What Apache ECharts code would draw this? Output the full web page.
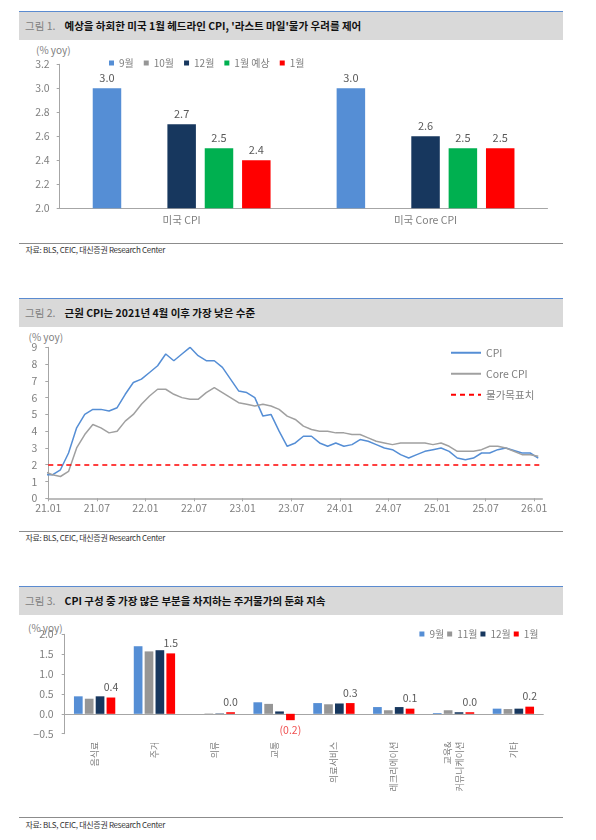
<!DOCTYPE html>
<html><head><meta charset="utf-8">
<script src="https://cdn.jsdelivr.net/npm/echarts@6/dist/echarts.min.js"></script>
<style>
html,body{margin:0;padding:0;background:#fff;width:596px;height:840px;overflow:hidden;font-family:'Noto Sans CJK KR','Noto Sans',sans-serif;}
.band{position:absolute;left:19px;width:544px;height:28px;background:#d9d9d9;border-top:1px solid #5b8bd0;}
.band .no{position:absolute;left:6px;top:0;line-height:28px;font-size:10.5px;color:#808080;white-space:nowrap;}
.band .tt{position:absolute;left:45.5px;top:0;line-height:28px;font-size:10.5px;font-weight:bold;color:#111;white-space:nowrap;}
.srcline{position:absolute;left:19px;width:544px;height:0;border-top:1px solid #8c8c8c;}
.src{position:absolute;left:25.5px;font-size:8px;letter-spacing:-0.3px;color:#333;white-space:nowrap;line-height:10px;}
.unit{position:absolute;font-size:10px;color:#808080;white-space:nowrap;line-height:12px;}
.chart{position:absolute;left:0;top:0;width:596px;height:840px;}
</style></head>
<body>
<div class="band" style="top:11px"><span class="no">그림 1.</span><span class="tt">예상을 하회한 미국 1월 헤드라인 CPI, '라스트 마일'물가 우려를 제어</span></div>
<div class="unit" style="left:36px;top:44px">(% yoy)</div>
<div class="srcline" style="top:243px"></div>
<div class="src" style="top:244.5px">자료: BLS, CEIC, 대신증권 Research Center</div>

<div class="band" style="top:298px"><span class="no">그림 2.</span><span class="tt">근원 CPI는 2021년 4월 이후 가장 낮은 수준</span></div>
<div class="unit" style="left:28.5px;top:330.5px">(% yoy)</div>
<div class="srcline" style="top:531px"></div>
<div class="src" style="top:533px">자료: BLS, CEIC, 대신증권 Research Center</div>

<div class="band" style="top:586px"><span class="no">그림 3.</span><span class="tt">CPI 구성 중 가장 많은 부분을 차지하는 주거물가의 둔화 지속</span></div>
<div class="unit" style="left:28px;top:622px">(% yoy)</div>
<div class="srcline" style="top:817px"></div>
<div class="src" style="top:820px">자료: BLS, CEIC, 대신증권 Research Center</div>

<div id="c1" class="chart"></div>
<div id="c2" class="chart"></div>
<div id="c3" class="chart"></div>
<script>
// ---------- Chart 1 data ----------
const C1_CATS = ['미국 CPI', '미국 Core CPI'];
const C1_NAMES = ['9월', '10월', '12월', '1월 예상', '1월'];
const C1_SEP = [3.0, 3.0];
const C1_OCT = [null, null];
const C1_DEC = [2.7, 2.6];
const C1_JAN_FCST = [2.5, 2.5];
const C1_JAN = [2.4, 2.5];

// ---------- Chart 2 data ----------
const C2_MONTHS = ['2020.12',
 '2021.01','2021.02','2021.03','2021.04','2021.05','2021.06','2021.07','2021.08','2021.09','2021.10','2021.11','2021.12',
 '2022.01','2022.02','2022.03','2022.04','2022.05','2022.06','2022.07','2022.08','2022.09','2022.10','2022.11','2022.12',
 '2023.01','2023.02','2023.03','2023.04','2023.05','2023.06','2023.07','2023.08','2023.09','2023.10','2023.11','2023.12',
 '2024.01','2024.02','2024.03','2024.04','2024.05','2024.06','2024.07','2024.08','2024.09','2024.10','2024.11','2024.12',
 '2025.01','2025.02','2025.03','2025.04','2025.05','2025.06','2025.07','2025.08','2025.09','2025.10','2025.11','2025.12',
 '2026.01'];
const C2_CPI = [1.4,
 1.4,1.7,2.7,4.2,5.0,5.3,5.3,5.2,5.4,6.2,6.9,7.1,
 7.5,7.9,8.6,8.2,8.6,9.0,8.5,8.2,8.2,7.8,7.1,6.4,
 6.3,6.0,4.9,5.0,4.0,3.1,3.3,3.7,3.7,3.3,3.1,3.3,
 3.1,3.2,3.5,3.4,3.2,3.0,2.9,2.6,2.4,2.6,2.8,2.9,
 3.0,2.8,2.4,2.3,2.4,2.7,2.7,2.9,3.0,null,2.7,2.7,
 2.4];
const C2_CORE = [1.6,
 1.4,1.3,1.6,3.0,3.8,4.4,4.2,3.9,4.0,4.6,5.0,5.6,
 6.1,6.5,6.5,6.2,6.0,5.9,5.9,6.3,6.6,6.3,6.0,5.7,
 5.6,5.5,5.6,5.5,5.3,4.9,4.7,4.3,4.1,4.0,4.0,3.9,
 3.9,3.8,3.8,3.6,3.4,3.3,3.2,3.3,3.3,3.3,3.3,3.2,
 3.3,3.1,2.8,2.8,2.8,2.9,3.1,3.1,3.0,null,2.6,2.6,
 2.5];
const C2_TARGET = 2;
const C2_X_TICKS = ['21.01','21.07','22.01','22.07','23.01','23.07','24.01','24.07','25.01','25.07','26.01'];

// ---------- Chart 3 data ----------
const C3_CATS = ['음식료','주거','의류','교통','의료서비스','레크리에이션','교육&\n커뮤니케이션','기타'];
const C3_NAMES = ['9월','11월','12월','1월'];
const C3_SEP = [0.44, 1.70, 0.00, 0.29, 0.27, 0.17, 0.02, 0.13];
const C3_NOV = [0.38, 1.57, 0.01, 0.25, 0.24, 0.09, 0.09, 0.12];
const C3_DEC = [0.44, 1.60, 0.01, 0.06, 0.26, 0.17, 0.04, 0.13];
const C3_JAN = [0.41, 1.52, 0.04, -0.16, 0.27, 0.13, 0.04, 0.18];

// ---------- styles ----------
const FF = "'Noto Sans CJK KR','Noto Sans',sans-serif";
const AX = '#a6a6a6';
const LBL = '#7f7f7f';
const COL = {sep:'#558ed5', gray:'#969696', navy:'#17375e', green:'#00b050', red:'#ff0000'};

// ---------- Chart 1 ----------
const c1 = echarts.init(document.getElementById('c1'));
const c1Data = [C1_SEP, C1_OCT, C1_DEC, C1_JAN_FCST, C1_JAN];
const c1Colors = [COL.sep, COL.gray, COL.navy, COL.green, COL.red];
c1.setOption({
  animation:false,
  textStyle:{fontFamily:FF},
  legend:{left:104, top:53, icon:'rect', itemWidth:5, itemHeight:5, itemGap:10,
    textStyle:{fontSize:10, color:LBL, fontFamily:FF}, data:C1_NAMES},
  grid:{left:59.7, top:64.3, width:487.8, height:144},
  xAxis:{type:'category', data:C1_CATS,
    axisLine:{lineStyle:{color:AX}}, axisTick:{inside:true, length:3, lineStyle:{color:AX}},
    axisLabel:{margin:6, fontSize:10.5, color:LBL}},
  yAxis:{type:'value', min:2.0, max:3.2, interval:0.2, splitLine:{show:false},
    axisLine:{show:true, lineStyle:{color:AX}}, axisTick:{show:true, length:3, lineStyle:{color:AX}},
    axisLabel:{margin:10, fontSize:10.5, color:LBL, formatter:v=>v.toFixed(1)}},
  series:C1_NAMES.map((name,i)=>({
    name, type:'bar', data:c1Data[i], barWidth:28.5, barGap:'31%',
    itemStyle:{color:c1Colors[i]},
    label:{show:true, position:'top', distance:5, fontSize:11, color:'#595959',
      formatter:p=>p.value==null?'':Number(p.value).toFixed(1)}
  }))
});

// ---------- Chart 2 ----------
const c2 = echarts.init(document.getElementById('c2'));
const monthPos = s => { const [y,m] = s.split('.').map(Number); return (y-2021)*12 + (m-1) + 0.5; };
const toPts = vals => C2_MONTHS.map((m,i)=>[monthPos(m), vals[i]]).filter(p=>p[1]!=null);
c2.setOption({
  animation:false,
  textStyle:{fontFamily:FF},
  legend:{orient:'vertical', left:445, top:342.5, itemWidth:30, itemHeight:12, itemGap:10.5,
    itemStyle:{opacity:0},
    textStyle:{fontSize:10.5, color:LBL, fontFamily:FF}, data:['CPI','Core CPI','물가목표치']},
  grid:{left:48.3, top:347.3, width:494, height:151},
  xAxis:{type:'value', min:0, max:61, interval:6, splitLine:{show:false},
    axisLine:{lineStyle:{color:AX, width:1.5}}, axisTick:{length:3, lineStyle:{color:AX}},
    axisLabel:{margin:4, fontSize:10.5, color:LBL, showMaxLabel:false,
      formatter:v=>C2_X_TICKS[v/6] || ''}},
  yAxis:{type:'value', min:0, max:9, interval:1, splitLine:{show:false},
    axisLine:{show:true, lineStyle:{color:AX}}, axisTick:{show:true, length:3, lineStyle:{color:AX}},
    axisLabel:{margin:11, fontSize:10.5, color:LBL}},
  series:[
    {name:'CPI', type:'line', data:toPts(C2_CPI), symbol:'none', showSymbol:false,
      lineStyle:{color:COL.sep, width:1.5}, itemStyle:{color:COL.sep}},
    {name:'Core CPI', type:'line', data:toPts(C2_CORE), symbol:'none', showSymbol:false,
      lineStyle:{color:'#a0a0a0', width:1.5}, itemStyle:{color:'#a0a0a0'}},
    {name:'물가목표치', type:'line', data:[], symbol:'none',
      lineStyle:{color:COL.red, width:1.5, type:[5,4]}, itemStyle:{color:COL.red},
      markLine:{silent:true, symbol:['none','none'], label:{show:false},
        lineStyle:{color:COL.red, width:1.5, type:[5,4]}, data:[{yAxis:C2_TARGET}]}}
  ]
});

// ---------- Chart 3 ----------
const c3 = echarts.init(document.getElementById('c3'));
const c3Data = [C3_SEP, C3_NOV, C3_DEC, C3_JAN];
const c3Colors = [COL.sep, COL.gray, COL.navy, COL.red];
const fmt3 = v => v < 0 ? '(' + Math.abs(v).toFixed(1) + ')' : v.toFixed(1);
c3.setOption({
  animation:false,
  textStyle:{fontFamily:FF},
  legend:{right:52.5, top:624, icon:'rect', itemWidth:5, itemHeight:5, itemGap:3,
    textStyle:{fontSize:10, color:LBL, fontFamily:FF}, data:C3_NAMES},
  grid:{left:64.7, top:634.3, width:478.6, height:99.4},
  xAxis:[
    {type:'category', data:C3_CATS, axisLine:{onZero:true, lineStyle:{color:AX}},
      axisTick:{length:3, lineStyle:{color:AX}}, axisLabel:{show:false}},
    {type:'category', data:C3_CATS, position:'bottom', axisLine:{show:false, onZero:false},
      axisTick:{show:false},
      axisLabel:{interval:0, rotate:90, margin:8, fontSize:9, lineHeight:12.6, color:LBL}}
  ],
  yAxis:{type:'value', min:-0.5, max:2.0, interval:0.5, splitLine:{show:false},
    axisLine:{show:true, lineStyle:{color:AX}}, axisTick:{show:true, length:3, lineStyle:{color:AX}},
    axisLabel:{margin:11, fontSize:10.5, color:LBL,
      formatter:v=>v<0?'−'+Math.abs(v).toFixed(1):v.toFixed(1)}},
  series:C3_NAMES.map((name,i)=>{
    const last = i === C3_NAMES.length-1;
    return {
      name, type:'bar', xAxisIndex:0, barWidth:8.7, barGap:'25%',
      itemStyle:{color:c3Colors[i]},
      data:c3Data[i].map(v=> last ? {value:v, label:{show:true,
        position: v<0 ? 'bottom' : 'top', distance:5, fontSize:10.5,
        color: v<0 ? '#f05050' : '#595959', formatter:p=>fmt3(p.value)}} : v)
    };
  })
});
</script>
</body></html>
